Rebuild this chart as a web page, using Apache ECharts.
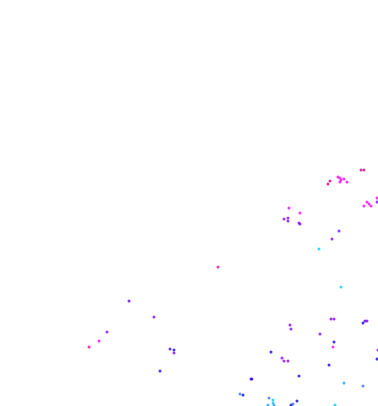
<!DOCTYPE html>
<html>
<head>
<meta charset="utf-8">
<script src="https://cdn.jsdelivr.net/npm/echarts@6/dist/echarts.min.js"></script>
<style>html,body{margin:0;padding:0;background:#fff}#c{width:378px;height:406px}</style>
</head>
<body>
<div id="c"></div>
<script>
// x values
var xs = [361,364,330,328,338,340,341,340,344,347,377,377,367,369,371,364,289,300,284,288,288,299,300,339,332,319,218,341,129,154,107,99,89,170,174,174,160,290,291,320,331,334,363,365,367,334,333,271,282,284,288,378,377,329,299,251,252,344,363,240,243,269,273,273,297,293,291,335,268,274];
// y values (from the bottom)
var ys = [236,236,225,222,229,228,226,224,227,224,208,204,204,202,200,200,198,193,187,188,185,183,182,175,167,157,139,119,105,89,74,65,59,57,56,53,35,81,77,72,87,87,83,85,85,64,59,54,48,45,45,56,47,41,30,27,27,23,20,12,11,8,6,3,5,2,1,1,1,1];
// colour value per point
var cs = [6,6,6,6,4,4,4,4,4,4,4,3,4,4,4,4,4,4,3,3,3,3,3,3,3,0,5,0,2.6,3,3,4,5,2.5,2,3,2,3,3,3,3,3,2,2.5,3,2,4,2,3,3,3,3,2,2,2,2,2.5,0.5,1,1,2,1,0,0,2,1,2,0,0.5,0.5];

var data = xs.map(function (x, i) { return [x, ys[i], cs[i]]; });

var chart = echarts.init(document.getElementById('c'));
chart.setOption({
  animation: false,
  backgroundColor: '#fff',
  grid: {left: 0, right: 0, top: 0, bottom: 0},
  xAxis: {type: 'value', min: 0, max: 378, show: false},
  yAxis: {type: 'value', min: 0, max: 406, show: false},
  visualMap: {
    show: false, dimension: 2, min: 0, max: 6,
    inRange: {color: ['#00ccff', '#3377ff', '#1100ee', '#8800ff', '#ff00ff', '#ff0099', '#cc0088']}
  },
  series: [{
    type: 'scatter',
    symbolSize: 3,
    data: data,
    clip: false
  }]
});
</script>
</body>
</html>
